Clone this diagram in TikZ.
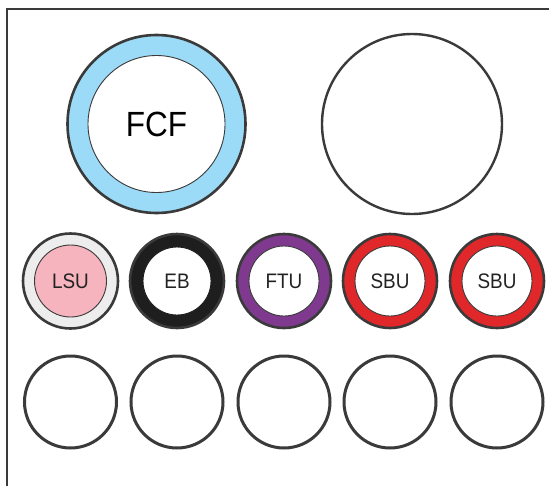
\documentclass[tikz,border=0pt]{standalone}
\usepackage{fontspec}
\setmainfont{Liberation Sans}[FakeStretch=0.9]
\definecolor{edge}{HTML}{3A3A3A}
\definecolor{ltblue}{HTML}{9BDBF7}
\definecolor{pinkc}{HTML}{F5B4BE}
\definecolor{ltgray}{HTML}{EDEDED}
\definecolor{blk}{HTML}{1E1E1E}
\definecolor{purp}{HTML}{7F3A8F}
\definecolor{redc}{HTML}{E0282B}
\definecolor{txt}{HTML}{222222}
\begin{document}
\begin{tikzpicture}[x=1pt,y=-1pt,
  ring/.style={circle,draw=edge,line width=2.6pt,inner sep=0pt,minimum size=#1},
  core/.style={circle,draw=edge,line width=0.9pt,fill=white,inner sep=0pt,minimum size=#1,text=txt,font=\fontsize{21}{21}\selectfont},
  empty/.style={circle,draw=edge,line width=3pt,fill=white,inner sep=0pt,minimum size=92pt}]
\useasboundingbox (0,0) rectangle (549,485);
\fill[white] (0,0) rectangle (549,485);
\coordinate (fb) at (7,487);
\coordinate (fc) at (7,9);
\coordinate (fr) at (551,9);
\draw[edge,line width=2pt] (fb) -- (fc) -- (fr);
% big circles
\node[ring=178pt,fill=ltblue] (fcfo) at (156.5,124) {};
\node[core=137pt,font=\fontsize{35}{35}\selectfont,text=black] (fcf) at (156.5,124) {FCF};
\node[ring=180pt,fill=white,line width=2.4pt] (big) at (412,124) {};
% row 2
\node[ring=95pt,fill=ltgray] (lsuo) at (70.5,281) {};
\node[core=72pt,fill=pinkc] (lsu) at (70.5,281) {LSU};
\node[ring=94pt,fill=blk] (ebo) at (177,281) {};
\node[core=68pt,draw=blk] (eb) at (177,281) {EB};
\node[ring=94pt,fill=purp] (ftuo) at (284,281) {};
\node[core=70pt] (ftu) at (284,281) {FTU};
\node[ring=94pt,fill=redc] (sbuo1) at (390,281) {};
\node[core=70pt] (sbu1) at (390,281) {SBU};
\node[ring=94pt,fill=redc] (sbuo2) at (497,281) {};
\node[core=70pt] (sbu2) at (497,281) {SBU};
% row 3
\node[empty] (e1) at (70.5,402) {};
\node[empty] (e2) at (177,402) {};
\node[empty] (e3) at (284,402) {};
\node[empty] (e4) at (390,402) {};
\node[empty] (e5) at (497,402) {};
\end{tikzpicture}
\end{document}
